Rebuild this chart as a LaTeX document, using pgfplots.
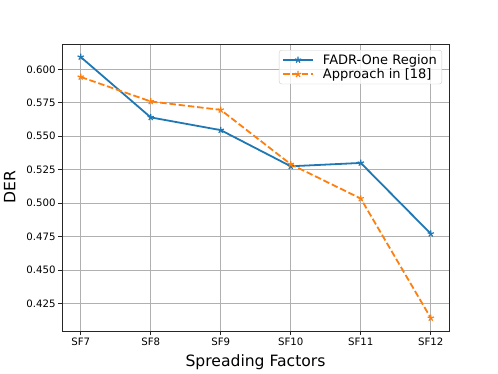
\documentclass[border=0pt]{standalone}
\usepackage{fontspec}
\setmainfont{DejaVu Sans}
\usepackage{pgfplots}
\pgfplotsset{compat=1.18}
\definecolor{mplblue}{HTML}{1F77B4}
\definecolor{mplorange}{HTML}{FF7F0E}
\definecolor{gridgray}{HTML}{B0B0B0}

\begin{document}
\begin{tikzpicture}
\path[use as bounding box] (-62pt,-42pt) rectangle (436pt,331pt);
\begin{axis}[
    at={(0,0)}, anchor=south west,
    scale only axis,
    width=387pt, height=287pt,
    xmin=-0.267, xmax=5.26,
    ymin=0.4046, ymax=0.6189,
    xtick={0,1,2,3,4,5},
    xticklabels={SF7,SF8,SF9,SF10,SF11,SF12},
    ytick={0.425,0.450,0.475,0.500,0.525,0.550,0.575,0.600},
    /pgf/number format/assume math mode=true,
    yticklabel style={/pgf/number format/fixed, /pgf/number format/fixed zerofill, /pgf/number format/precision=3},
    ticklabel style={font=\fontsize{10.2}{12}\selectfont, inner sep=2.5pt},
    tick pos=left,
    tick align=outside,
    major tick length=3.8pt,
    tick style={line width=0.87pt, color=black!85},
    axis line style={line width=0.87pt, color=black!85},
    grid=major,
    grid style={line width=0.87pt, color=gridgray},
    xlabel={Spreading Factors},
    ylabel={DER},
    label style={font=\fontsize{15.6}{18}\selectfont},
    xlabel style={yshift=-3pt},
    ylabel style={yshift=5pt},
    legend style={at={(0.982,0.979)}, anchor=north east, draw=black!20, fill=white, fill opacity=0.8, text opacity=1,
        rounded corners=2.5pt,
        font=\fontsize{13}{15}\selectfont, inner xsep=3pt, inner ysep=2pt, row sep=-1pt,
        cells={anchor=west}},
    legend image code/.code={
        \draw[mark repeat=2, mark phase=2] plot coordinates {(0pt,0pt) (15pt,0pt) (30pt,0pt)};},
]
\addplot[color=mplblue, line width=1.8pt, mark=star, mark size=3.3pt, mark options={solid, line width=1.2pt}] coordinates {
    (0,0.6092) (1,0.5641) (2,0.5546) (3,0.5276) (4,0.5301) (5,0.4772)
};
\addlegendentry{\hspace*{7pt}FADR-One Region}
\addplot[color=mplorange, line width=1.8pt, dash pattern=on 6.5pt off 2.8pt, mark=star, mark size=3.3pt, mark options={solid, line width=1.2pt}] coordinates {
    (0,0.5943) (1,0.5760) (2,0.5697) (3,0.5291) (4,0.5035) (5,0.4143)
};
\addlegendentry{\hspace*{7pt}Approach in [18]}
\end{axis}
\end{tikzpicture}
\end{document}
